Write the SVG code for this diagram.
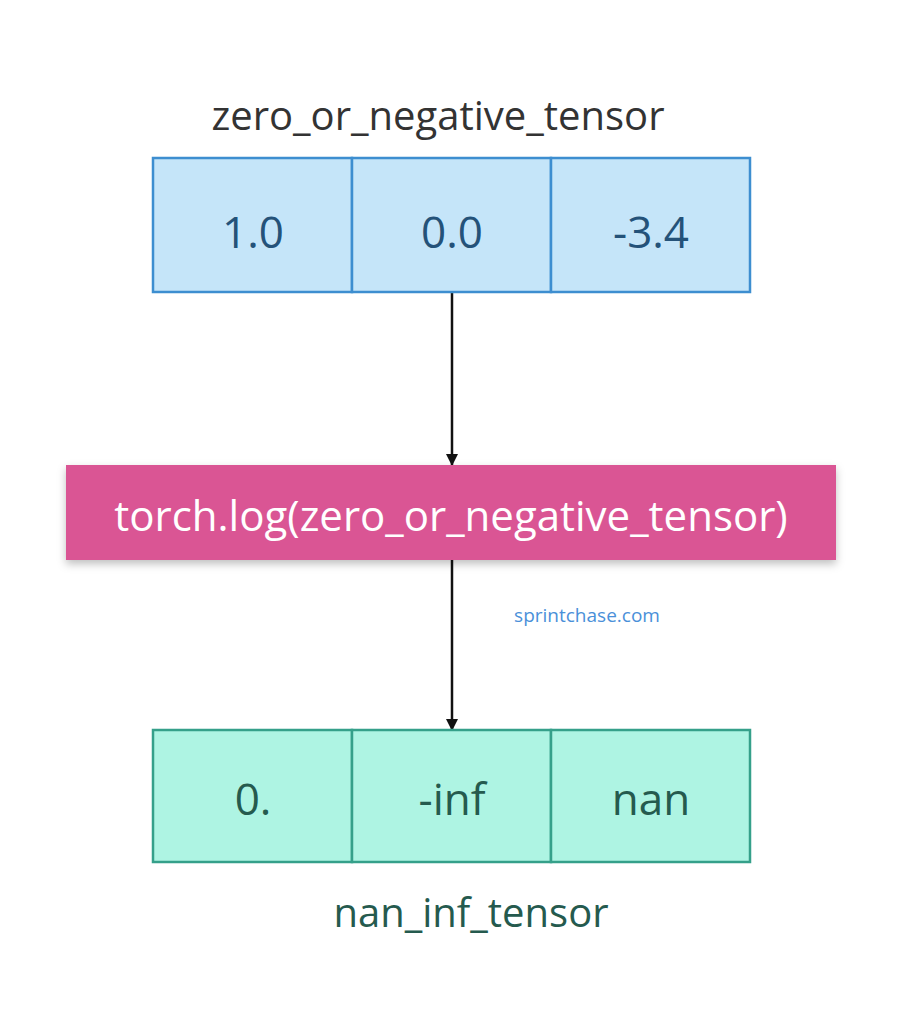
<svg xmlns="http://www.w3.org/2000/svg" width="905" height="1024" viewBox="0 0 905 1024">
<style>
text{font-family:"Open Sans","Noto Sans",sans-serif;text-anchor:middle}
.c1{fill:#c5e5f9;stroke:#3d8ed0;stroke-width:2.5}
.c2{fill:#aef4e3;stroke:#35a08a;stroke-width:2.5}
.v1{font-size:44px;fill:#245279}
.v2{font-size:44px;fill:#255a4e}
.conn{stroke:#111;stroke-width:2.5;fill:none}
</style>
<defs>
<marker id="ar" markerWidth="12" markerHeight="12" refX="11" refY="6" orient="auto" markerUnits="userSpaceOnUse" viewBox="0 0 12 12"><path d="M0,0L12,6L0,12z" fill="#111"/></marker>
<filter id="sh" x="-5%" y="-20%" width="110%" height="150%"><feDropShadow dx="0" dy="4" stdDeviation="4" flood-opacity="0.25"/></filter>
</defs>
<rect width="905" height="1024" fill="#fff"/>
<g id="connectors">
<line class="conn" x1="452" y1="292" x2="452" y2="465" marker-end="url(#ar)"/>
<line class="conn" x1="452" y1="560" x2="452" y2="730" marker-end="url(#ar)"/>
</g>
<g id="input">
<text x="438" y="130" font-size="40" fill="#333">zero_or_negative_tensor</text>
<rect class="c1" x="153" y="158" width="199" height="134"/>
<rect class="c1" x="352" y="158" width="199" height="134"/>
<rect class="c1" x="551" y="158" width="199" height="134"/>
<text class="v1" x="253" y="248">1.0</text>
<text class="v1" x="452" y="248">0.0</text>
<text class="v1" x="651" y="248">-3.4</text>
</g>
<g id="op">
<rect x="66" y="465" width="770" height="95" fill="#da5494" filter="url(#sh)"/>
<text x="451" y="531" font-size="42" fill="#fff">torch.log(zero_or_negative_tensor)</text>
</g>
<text x="587" y="622" font-size="19" fill="#4a90d9">sprintchase.com</text>
<g id="output">
<rect class="c2" x="153" y="730" width="199" height="132"/>
<rect class="c2" x="352" y="730" width="199" height="132"/>
<rect class="c2" x="551" y="730" width="199" height="132"/>
<text class="v2" x="253" y="815">0.</text>
<text class="v2" x="452" y="815">-inf</text>
<text class="v2" x="651" y="815">nan</text>
<text x="471" y="927" font-size="40" fill="#255a4e">nan_inf_tensor</text>
</g>
</svg>
